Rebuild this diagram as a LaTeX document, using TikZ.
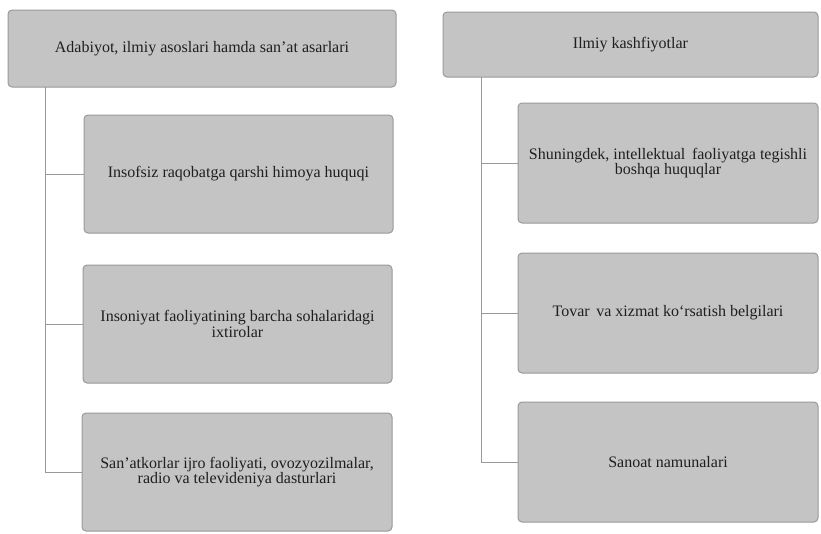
\documentclass[tikz,border=0pt]{standalone}
\usepackage{fontspec}
\setmainfont{Liberation Serif}
\begin{document}
\begin{tikzpicture}[x=1pt,y=-1pt,
  box/.style={draw=gray!80, line width=1pt, fill=black!23, rounded corners=4pt, inner sep=0pt, align=center, font=\fontsize{16}{14}\selectfont, text=black!88},
  link/.style={draw=gray!80, line width=0.9pt}]
\useasboundingbox (0,0) rectangle (821,533);
% left column
\node[box, minimum width=388, minimum height=77] (lh) at (202,48.5) {Adabiyot, ilmiy asoslari hamda san’at asarlari};
\node[box, minimum width=309, minimum height=118] (l1) at (238.5,174) {Insofsiz raqobatga qarshi himoya huquqi};
\node[box, minimum width=309, minimum height=118] (l2) at (237.5,324) {Insoniyat faoliyatining barcha sohalaridagi\\ixtirolar};
\node[box, minimum width=310, minimum height=118] (l3) at (237,472) {San’atkorlar ijro faoliyati, ovozyozilmalar,\\radio va televideniya dasturlari};
% right column
\node[box, minimum width=375, minimum height=65] (rh) at (630.5,44.5) {Ilmiy kashfiyotlar};
\node[box, minimum width=300, minimum height=120] (r1) at (668,163) {Shuningdek, intellektual\, faoliyatga tegishli\\boshqa huquqlar};
\node[box, minimum width=300, minimum height=120] (r2) at (668,313) {Tovar\, va xizmat ko‘rsatish belgilari};
\node[box, minimum width=300, minimum height=120] (r3) at (668,462) {Sanoat namunalari};
% connectors
\coordinate (lt) at (45,87);
\coordinate (rt) at (481,77);
\draw[link] (lt) |- (l3.west);
\draw[link] (l1.west) -- (l1.west -| lt);
\draw[link] (l2.west) -- (l2.west -| lt);
\draw[link] (rt) |- (r3.west);
\draw[link] (r1.west) -- (r1.west -| rt);
\draw[link] (r2.west) -- (r2.west -| rt);
\end{tikzpicture}
\end{document}
